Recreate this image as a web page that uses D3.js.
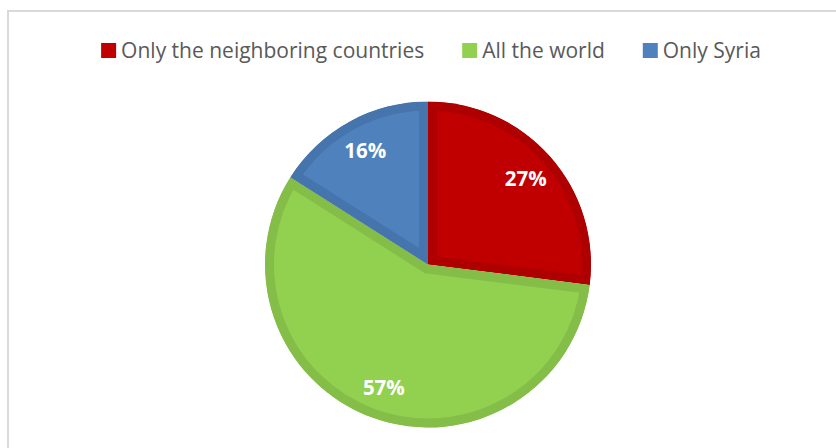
<!DOCTYPE html>
<html>
<head>
<meta charset="utf-8">
<script src="https://cdn.jsdelivr.net/npm/d3@7"></script>
<style>
  html, body { margin: 0; padding: 0; background: #ffffff; }
  svg { display: block; }
</style>
</head>
<body>
<svg id="chart" width="836" height="448"></svg>
<script>
// Survey answers: where people would like to go
const categories = ["Only the neighboring countries", "All the world", "Only Syria"];
const shares = [27, 57, 16];
const fillColors = ["#C00000", "#92D050", "#4F81BD"];
const edgeColors = ["#AE0000", "#84BD47", "#4674AC"];

const width = 836, height = 448;
const svg = d3.select("#chart");

// light grey frame around the chart area
svg.append("rect")
  .attr("x", 8).attr("y", 11)
  .attr("width", 840).attr("height", 450)
  .attr("fill", "#ffffff")
  .attr("stroke", "#d9d9d9")
  .attr("stroke-width", 2);

const cx = 428, cy = 264.5, radius = 163, edgeWidth = 9;

const pie = d3.pie().sort(null).value(d => d.value);
const arcs = pie(categories.map((c, i) => ({ name: c, value: shares[i], i })));
const arc = d3.arc().innerRadius(0).outerRadius(radius);
const labelArc = d3.arc().innerRadius(radius * 0.8).outerRadius(radius * 0.8);

const g = svg.append("g").attr("transform", `translate(${cx},${cy})`);
const defs = svg.append("defs");

arcs.forEach((a, k) => {
  defs.append("clipPath").attr("id", "slice-clip-" + k)
    .append("path").attr("d", arc(a));
});

// each wedge gets a darker band along its inside edge
g.selectAll("path.slice")
  .data(arcs)
  .join("path")
  .attr("class", "slice")
  .attr("d", arc)
  .attr("fill", d => fillColors[d.data.i])
  .attr("stroke", d => edgeColors[d.data.i])
  .attr("stroke-width", edgeWidth * 2)
  .attr("stroke-linejoin", "miter")
  .attr("clip-path", (d, k) => `url(#slice-clip-${k})`);

// percentage labels
g.selectAll("text.pct")
  .data(arcs)
  .join("text")
  .attr("class", "pct")
  .attr("transform", d => `translate(${labelArc.centroid(d)})`)
  .attr("text-anchor", "middle")
  .attr("dy", "0.36em")
  .attr("fill", "#ffffff")
  .attr("font-family", "'Open Sans', sans-serif")
  .attr("font-weight", 700)
  .attr("font-size", 20.5)
  .text(d => d.data.value + "%");

// legend across the top
const legend = svg.append("g");
const items = legend.selectAll("g.item")
  .data(categories)
  .join("g")
  .attr("class", "item");
items.append("rect")
  .attr("width", 15).attr("height", 15)
  .attr("y", -15)
  .attr("fill", (d, i) => fillColors[i]);
items.append("text")
  .attr("x", 20)
  .attr("y", -0.5)
  .attr("fill", "#595959")
  .attr("font-family", "'Open Sans', sans-serif")
  .attr("font-size", 21)
  .text(d => d);

let xPos = 0;
items.each(function() {
  const w = this.querySelector("text").getComputedTextLength() + 20;
  d3.select(this).attr("transform", `translate(${xPos},0)`);
  xPos += w + 38;
});
const total = xPos - 38;
legend.attr("transform", `translate(${431 - total / 2},58)`);
</script>
</body>
</html>
